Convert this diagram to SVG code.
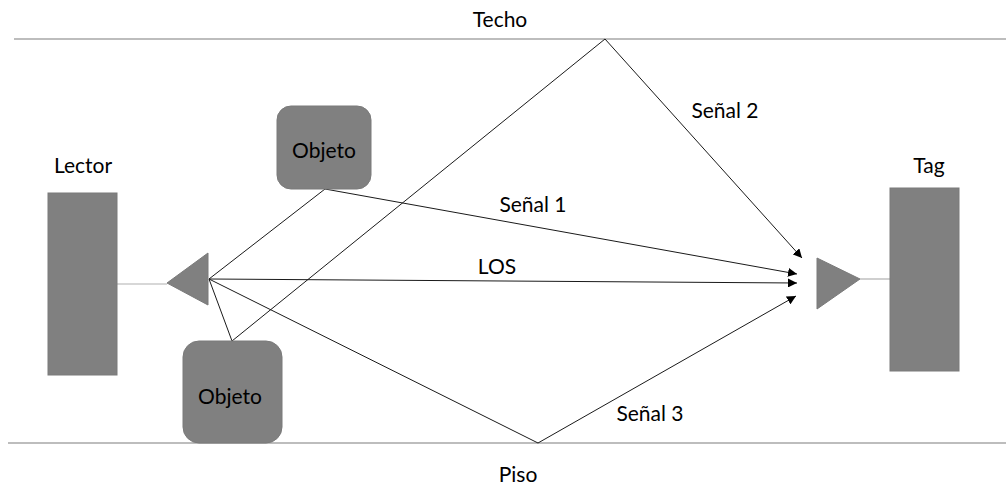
<svg xmlns="http://www.w3.org/2000/svg" width="1006" height="488" viewBox="0 0 1006 488">
  <style>
    .lbl { font-family: Lato, "Open Sans", "Liberation Sans", sans-serif; font-size: 21px; fill: #000; text-anchor: middle; }
    .box { fill: #808080; stroke: #7a7a7a; stroke-width: 1; }
    .ray { stroke: #1a1a1a; stroke-width: 1; fill: none; }
    .surface { stroke: #bdbdbd; stroke-width: 2; }
    .feed { stroke: #b0b0b0; stroke-width: 1.2; }
  </style>
  <defs>
    <marker id="arrow" viewBox="0 0 10 10" refX="10" refY="5" markerWidth="9" markerHeight="9" markerUnits="userSpaceOnUse" orient="auto">
      <path d="M0,0 L10,5 L0,10 z" fill="#000"/>
    </marker>
  </defs>

  <!-- ceiling and floor -->
  <g id="techo">
    <line class="surface" x1="14" y1="39" x2="1006" y2="39"/>
    <text class="lbl" x="500" y="27">Techo</text>
  </g>
  <g id="piso">
    <line class="surface" x1="8" y1="443" x2="1006" y2="443"/>
    <text class="lbl" x="518" y="482">Piso</text>
  </g>

  <!-- signal paths -->
  <g id="connectors">
    <!-- LOS -->
    <line class="ray" x1="209" y1="279" x2="797" y2="283" marker-end="url(#arrow)"/>
    <!-- Señal 1: bounce off upper object -->
    <polyline class="ray" points="209,279 325,189 797,274" marker-end="url(#arrow)"/>
    <!-- Señal 2: via lower object and ceiling -->
    <polyline class="ray" points="209,279 232,341 605,39 802,258" marker-end="url(#arrow)"/>
    <!-- Señal 3: floor reflection -->
    <polyline class="ray" points="209,279 538,443 796,296" marker-end="url(#arrow)"/>
    <!-- antenna feeds -->
    <line class="feed" x1="117" y1="284" x2="167" y2="284"/>
    <line class="feed" x1="860" y1="279" x2="890" y2="279"/>
  </g>

  <g id="lector">
    <rect class="box" x="48" y="193" width="69" height="182"/>
    <text class="lbl" x="83" y="173">Lector</text>
  </g>
  <g id="lector-antena">
    <polygon class="box" points="167,283 208,253 208,305"/>
  </g>

  <g id="tag">
    <rect class="box" x="890" y="188" width="69" height="183"/>
    <text class="lbl" x="929" y="173">Tag</text>
  </g>
  <g id="tag-antena">
    <polygon class="box" points="817,258 817,309 860,279"/>
  </g>

  <g id="objeto-superior">
    <rect class="box" x="277" y="106" width="94" height="83" rx="14"/>
    <text class="lbl" x="324" y="158">Objeto</text>
  </g>
  <g id="objeto-inferior">
    <rect class="box" x="183" y="341" width="99" height="102" rx="16"/>
    <text class="lbl" x="230" y="404">Objeto</text>
  </g>

  <g id="etiquetas">
    <text class="lbl" x="725" y="118">Señal 2</text>
    <text class="lbl" x="533" y="212">Señal 1</text>
    <text class="lbl" x="497" y="274">LOS</text>
    <text class="lbl" x="650" y="421">Señal 3</text>
  </g>
</svg>
